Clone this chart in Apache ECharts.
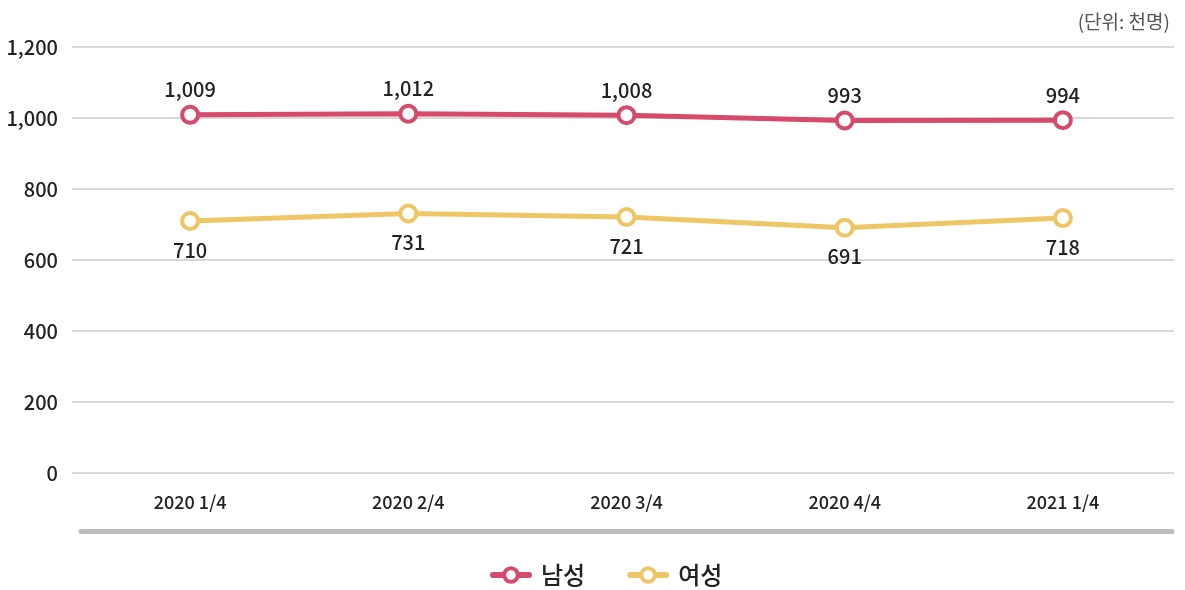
<!DOCTYPE html>
<html>
<head>
<meta charset="utf-8">
<script src="https://cdn.jsdelivr.net/npm/echarts@6/dist/echarts.min.js"></script>
<style>
  html, body { margin: 0; padding: 0; background: #fff; }
  #chart { width: 1185px; height: 590px; }
</style>
</head>
<body>
<div id="chart"></div>
<script>
const categories = ['2020 1/4', '2020 2/4', '2020 3/4', '2020 4/4', '2021 1/4']
const maleData = [1009, 1012, 1008, 993, 994]
const femaleData = [710, 731, 721, 691, 718]
const seriesNames = ['남성', '여성']
const colorList = ['#d64a6b', '#efc665']

const fontFamily = '"Noto Sans CJK KR", "Noto Sans", sans-serif'
const fmt = (v) => Number(v).toLocaleString('en-US')

const chart = echarts.init(document.getElementById('chart'))

const makeSeries = (name, data, index, labelPos, dist) => ({
  name,
  type: 'line',
  data,
  xAxisIndex: 0,
  yAxisIndex: 1,
  symbol: 'circle',
  symbolSize: 16,
  showAllSymbol: true,
  color: colorList[index],
  lineStyle: { width: 5, color: colorList[index] },
  itemStyle: { color: '#fff', borderColor: colorList[index], borderWidth: 4 },
  label: {
    show: true,
    position: labelPos,
    distance: dist,
    formatter: (p) => fmt(p.value),
    color: '#222',
    fontSize: 20,
    fontWeight: 500,
    fontFamily
  },
  z: 3
})

const legendItem = (index) => ({
  name: seriesNames[index],
  itemStyle: { color: '#fff', borderColor: colorList[index], borderWidth: 4 },
  lineStyle: { color: colorList[index], width: 6, cap: 'round' }
})

chart.setOption({
  animation: false,
  textStyle: { fontFamily },
  title: {
    text: '(단위: 천명)',
    right: 10,
    top: 7,
    textStyle: { fontSize: 19, fontWeight: 'normal', color: '#555', fontFamily }
  },
  legend: {
    bottom: -2,
    left: 485,
    itemWidth: 36,
    itemHeight: 17,
    itemGap: 42,
    textStyle: { fontSize: 24, color: '#222', fontFamily, fontWeight: 500, padding: [0, 0, 0, 7] },
    data: [legendItem(0), legendItem(1)]
  },
  grid: [
    { left: 72, right: 11, top: 47, bottom: 117 },
    { left: 81, right: 13, top: 47, bottom: 117 }
  ],
  xAxis: [
    {
      type: 'category',
      gridIndex: 1,
      data: categories,
      boundaryGap: true,
      axisLine: { show: false },
      axisTick: { show: false },
      axisLabel: { color: '#222', fontSize: 18, fontWeight: 500, margin: 20, fontFamily }
    },
    {
      type: 'category',
      gridIndex: 1,
      position: 'bottom',
      offset: 58,
      data: categories,
      axisLine: { show: true, lineStyle: { color: '#bdbdbd', width: 5 } },
      axisTick: { show: false },
      axisLabel: { show: false }
    },
    {
      type: 'value',
      gridIndex: 0,
      show: false
    }
  ],
  yAxis: [
    {
      type: 'value',
      gridIndex: 0,
      min: 0,
      max: 1200,
      interval: 200,
      axisLine: { show: false },
      axisTick: { show: false },
      axisLabel: { color: '#222', fontSize: 20, fontWeight: 500, margin: 14, formatter: fmt, fontFamily },
      splitLine: { lineStyle: { color: '#cccccc', width: 1.5 } }
    },
    {
      type: 'value',
      gridIndex: 1,
      min: 0,
      max: 1200,
      interval: 200,
      show: false,
      splitLine: { show: false }
    }
  ],
  series: [
    makeSeries(seriesNames[0], maleData, 0, 'top', 5),
    makeSeries(seriesNames[1], femaleData, 1, 'bottom', 9)
  ]
})
</script>
</body>
</html>
